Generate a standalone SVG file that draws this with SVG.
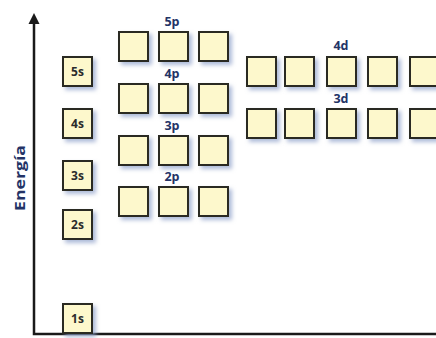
<svg xmlns="http://www.w3.org/2000/svg" width="436" height="338" viewBox="0 0 436 338">
<defs>
<filter id="sh" x="-30%" y="-30%" width="170%" height="170%">
<feDropShadow dx="3" dy="3" stdDeviation="2.2" flood-color="#8a9ec8" flood-opacity="0.7"/>
</filter>
</defs>
<style>
.b{fill:#fdf8cc;stroke:#2a2a22;stroke-width:2;filter:url(#sh)}
.s{font-family:"Open Sans","Liberation Sans",sans-serif;font-weight:bold;font-size:12px;fill:#2b2b2b;text-anchor:middle}
.l{font-family:"Open Sans","Liberation Sans",sans-serif;font-weight:bold;font-size:12.5px;fill:#233366;text-anchor:middle}
.ax{stroke:#1a1a1a;stroke-width:2.5;fill:none}
</style>
<rect width="436" height="338" fill="#ffffff"/>
<g id="axes">
<path class="ax" d="M34,22 L34,334 L436,334"/>
<path d="M28.5,24 L34,13 L39.5,24 Z" fill="#1a1a1a"/>
<text transform="translate(25,178) rotate(-90)" text-anchor="middle" font-family="'Open Sans','Liberation Sans',sans-serif" font-weight="bold" font-size="15" fill="#233366" textLength="66" lengthAdjust="spacingAndGlyphs">Energía</text>
</g>
<g id="s1"><rect class="b" x="63" y="304" width="29" height="29"/><text class="s" x="77.5" y="323">1s</text></g>
<g id="s2"><rect class="b" x="63" y="210" width="29" height="29"/><text class="s" x="77.5" y="229">2s</text></g>
<g id="s3"><rect class="b" x="63" y="161" width="29" height="29"/><text class="s" x="77.5" y="180">3s</text></g>
<g id="s4"><rect class="b" x="63" y="109" width="29" height="29"/><text class="s" x="77.5" y="128">4s</text></g>
<g id="s5"><rect class="b" x="63" y="57" width="29" height="29"/><text class="s" x="77.5" y="76">5s</text></g>
<g id="p2">
<text class="l" x="172" y="181">2p</text>
<rect class="b" x="119" y="187" width="29" height="29"/><rect class="b" x="159" y="187" width="29" height="29"/><rect class="b" x="199" y="187" width="29" height="29"/>
</g>
<g id="p3">
<text class="l" x="172" y="130">3p</text>
<rect class="b" x="119" y="136" width="29" height="29"/><rect class="b" x="159" y="136" width="29" height="29"/><rect class="b" x="199" y="136" width="29" height="29"/>
</g>
<g id="p4">
<text class="l" x="172" y="78">4p</text>
<rect class="b" x="119" y="84" width="29" height="29"/><rect class="b" x="159" y="84" width="29" height="29"/><rect class="b" x="199" y="84" width="29" height="29"/>
</g>
<g id="p5">
<text class="l" x="172" y="26">5p</text>
<rect class="b" x="119" y="32" width="29" height="29"/><rect class="b" x="159" y="32" width="29" height="29"/><rect class="b" x="199" y="32" width="29" height="29"/>
</g>
<g id="d4">
<text class="l" x="341" y="50">4d</text>
<rect class="b" x="247" y="57" width="29" height="29"/><rect class="b" x="285" y="57" width="29" height="29"/><rect class="b" x="327" y="57" width="29" height="29"/><rect class="b" x="368" y="57" width="29" height="29"/><rect class="b" x="410" y="57" width="29" height="29"/>
</g>
<g id="d3">
<text class="l" x="341" y="103">3d</text>
<rect class="b" x="247" y="109" width="29" height="29"/><rect class="b" x="285" y="109" width="29" height="29"/><rect class="b" x="327" y="109" width="29" height="29"/><rect class="b" x="368" y="109" width="29" height="29"/><rect class="b" x="410" y="109" width="29" height="29"/>
</g>
</svg>
